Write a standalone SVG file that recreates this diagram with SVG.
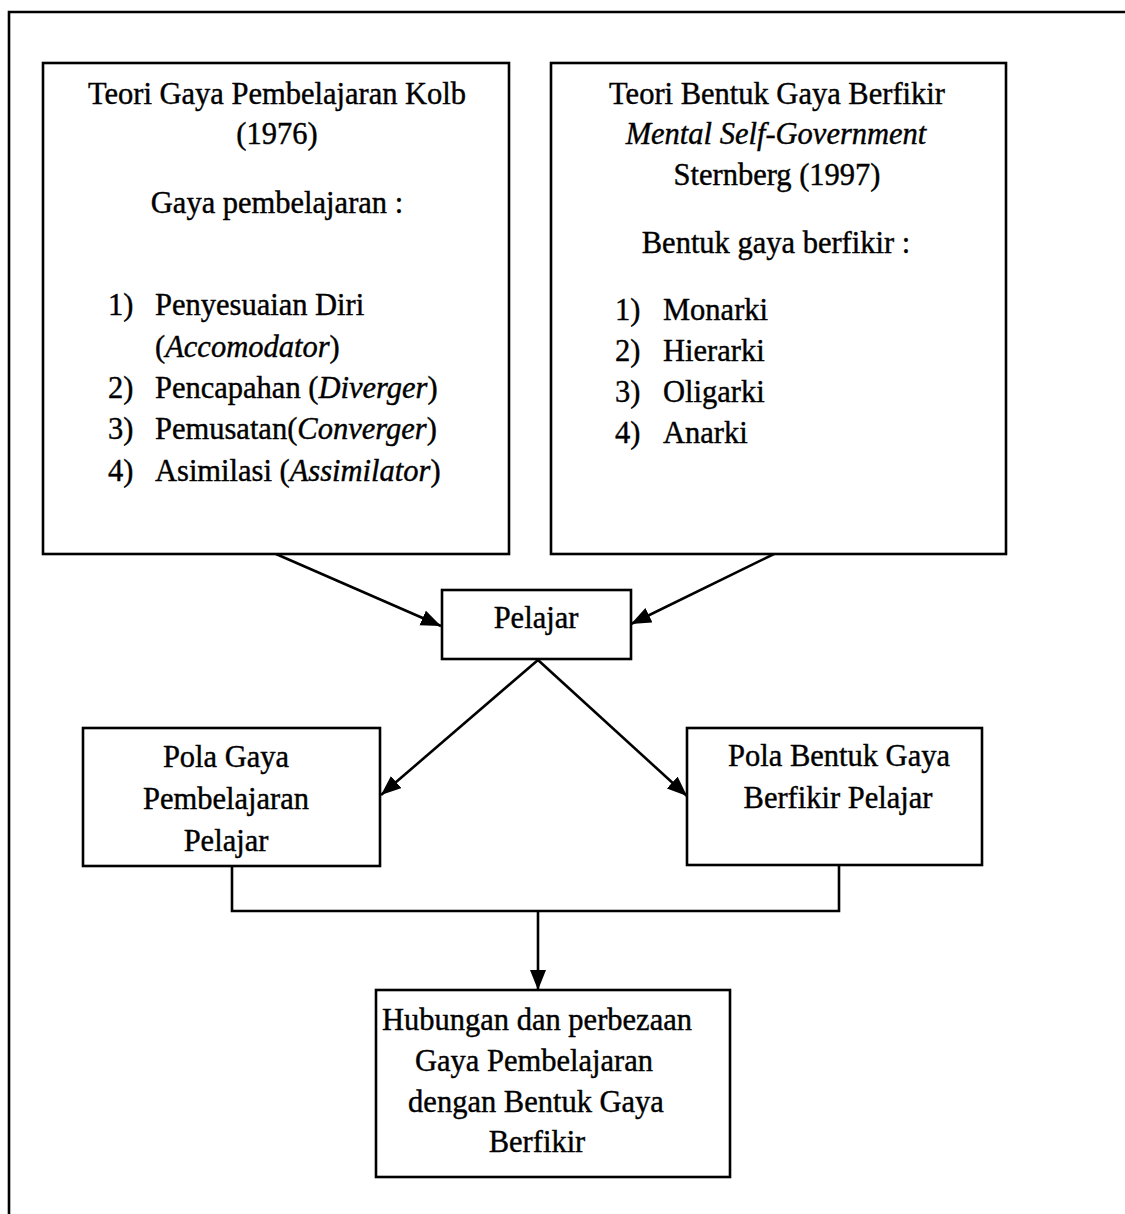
<svg xmlns="http://www.w3.org/2000/svg" width="1125" height="1214" viewBox="0 0 1125 1214">
<style>
.box{fill:#fff;stroke:#000;stroke-width:2.6}
.t{font-family:"Liberation Serif","Times New Roman",serif;font-size:30.5px;fill:#000;stroke:#000;stroke-width:0.4}
.c{text-anchor:middle}
.ln{fill:none;stroke:#000;stroke-width:2.6}
</style>
<defs>
<marker id="ah" markerUnits="userSpaceOnUse" markerWidth="22" markerHeight="18" refX="20" refY="8" orient="auto">
<path d="M0,0 L20,8 L0,16 z" fill="#000"/>
</marker>
</defs>
<rect width="1125" height="1214" fill="#fff"/>
<g id="frame">
<polyline class="ln" points="9,1214 9,12 1125,12"/>
</g>
<g id="connectors">
<line class="ln" x1="276" y1="554" x2="441" y2="626" marker-end="url(#ah)"/>
<line class="ln" x1="774" y1="554" x2="631" y2="624" marker-end="url(#ah)"/>
<line class="ln" x1="538" y1="660" x2="381" y2="795" marker-end="url(#ah)"/>
<line class="ln" x1="538" y1="660" x2="687" y2="796" marker-end="url(#ah)"/>
<polyline class="ln" points="232,866 232,911 839,911 839,865"/>
<line class="ln" x1="538" y1="911" x2="538" y2="990" marker-end="url(#ah)"/>
</g>
<g id="kolb">
<rect class="box" x="43" y="63" width="466" height="491"/>
<text class="t c" x="277" y="104">Teori Gaya Pembelajaran Kolb</text>
<text class="t c" x="277" y="144">(1976)</text>
<text class="t c" x="277" y="213">Gaya pembelajaran :</text>
<text class="t" x="108" y="315">1)</text><text class="t" x="155" y="315">Penyesuaian Diri</text>
<text class="t" x="155" y="357">(<tspan font-style="italic">Accomodator</tspan>)</text>
<text class="t" x="108" y="398">2)</text><text class="t" x="155" y="398">Pencapahan (<tspan font-style="italic">Diverger</tspan>)</text>
<text class="t" x="108" y="439">3)</text><text class="t" x="155" y="439">Pemusatan(<tspan font-style="italic">Converger</tspan>)</text>
<text class="t" x="108" y="481">4)</text><text class="t" x="155" y="481">Asimilasi (<tspan font-style="italic">Assimilator</tspan>)</text>
</g>
<g id="sternberg">
<rect class="box" x="551" y="63" width="455" height="491"/>
<text class="t c" x="777" y="104">Teori Bentuk Gaya Berfikir</text>
<text class="t c" x="776" y="144" font-style="italic">Mental Self-Government</text>
<text class="t c" x="777" y="185">Sternberg (1997)</text>
<text class="t c" x="776" y="253">Bentuk gaya berfikir :</text>
<text class="t" x="615" y="320">1)</text><text class="t" x="663" y="320">Monarki</text>
<text class="t" x="615" y="361">2)</text><text class="t" x="663" y="361">Hierarki</text>
<text class="t" x="615" y="402">3)</text><text class="t" x="663" y="402">Oligarki</text>
<text class="t" x="615" y="443">4)</text><text class="t" x="663" y="443">Anarki</text>
</g>
<g id="pelajar">
<rect class="box" x="442" y="590" width="189" height="69"/>
<text class="t c" x="536" y="628">Pelajar</text>
</g>
<g id="pola-gaya">
<rect class="box" x="83" y="728" width="297" height="138"/>
<text class="t c" x="226" y="767">Pola Gaya</text>
<text class="t c" x="226" y="809">Pembelajaran</text>
<text class="t c" x="226" y="851">Pelajar</text>
</g>
<g id="pola-bentuk">
<rect class="box" x="687" y="728" width="295" height="137"/>
<text class="t c" x="839" y="766">Pola Bentuk Gaya</text>
<text class="t c" x="838" y="808">Berfikir Pelajar</text>
</g>
<g id="hubungan">
<rect class="box" x="376" y="990" width="354" height="187"/>
<text class="t c" x="537" y="1030">Hubungan dan perbezaan</text>
<text class="t c" x="534" y="1071">Gaya Pembelajaran</text>
<text class="t c" x="536" y="1112">dengan Bentuk Gaya</text>
<text class="t c" x="537" y="1152">Berfikir</text>
</g>
</svg>
